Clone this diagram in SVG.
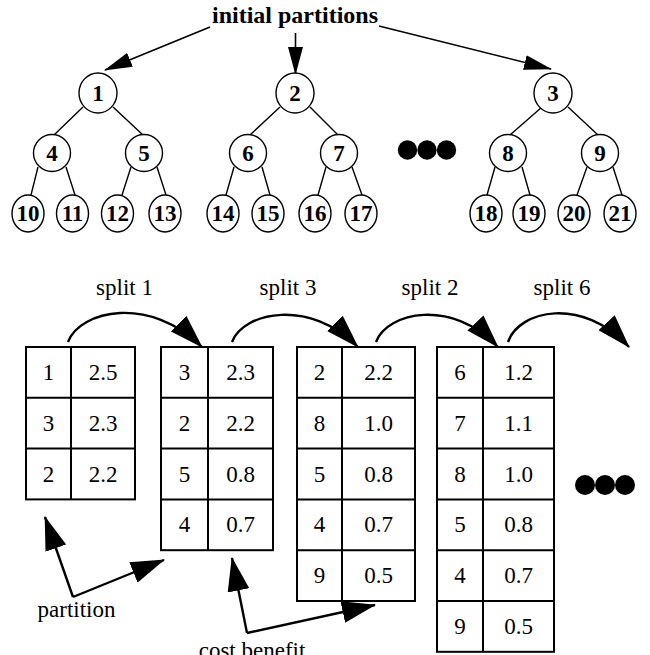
<svg xmlns="http://www.w3.org/2000/svg" width="650" height="655" viewBox="0 0 650 655">
<style>
.nd{fill:#fff;stroke:#000;stroke-width:1.4}
.nt{font-family:"Liberation Serif",serif;font-weight:bold;font-size:23px;text-anchor:middle;fill:#000}
.ed{stroke:#000;stroke-width:1.4;fill:none}
.ar{stroke:#000;stroke-width:1.6;fill:none}
.ab{stroke:#000;stroke-width:2.4;fill:none}
.tb{fill:none;stroke:#000;stroke-width:2}
.tx{font-family:"Liberation Serif",serif;font-size:23px;text-anchor:middle;fill:#000}
.dot{fill:#000}
</style>
<defs>
<marker id="ah" markerUnits="userSpaceOnUse" viewBox="0 0 28 15" markerWidth="28" markerHeight="15" refX="27" refY="7.5" orient="auto"><path d="M0,0 L28,7.5 L0,15 Z" fill="#000"/></marker>
<marker id="big" markerUnits="userSpaceOnUse" viewBox="0 0 34 22" markerWidth="34" markerHeight="22" refX="33" refY="11" orient="auto"><path d="M0,0 L34,11 L0,22 Z" fill="#000"/></marker>
</defs>

<text class="nt" x="295" y="23" font-size="24" style="font-size:24px">initial partitions</text>

<g id="connectors">
<path class="ar" d="M210,27 L105,70" marker-end="url(#ah)"/>
<path class="ar" d="M295.5,33 L295.5,74" marker-end="url(#ah)"/>
<path class="ar" d="M379,26 L551,69" marker-end="url(#ah)"/>
<path class="ed" d="M83,107 L54,135 M113,107 L143,135 M38,167 L31,195 M66,167 L75,195 M131,167 L122,195 M157,167 L166,195"/>
<path class="ed" d="M280,107 L250,135 M310,107 L338,135 M234,167 L226,195 M262,167 L270,195 M326,167 L318,195 M352,167 L362,195"/>
<path class="ed" d="M542,107 L510,135 M568,107 L598,135 M495,167 L487,195 M522,167 L530,195 M587,167 L577,195 M613,167 L622,195"/>
<path class="ab" d="M68,342 C80,310 150,295 202,347" marker-end="url(#big)"/>
<path class="ab" d="M232,342 C243,312 310,298 358,347" marker-end="url(#big)"/>
<path class="ab" d="M376,342 C387,312 452,298 498,347" marker-end="url(#big)"/>
<path class="ab" d="M508,342 C519,310 582,296 629,347" marker-end="url(#big)"/>
<path class="ab" d="M73,597 L45,517" marker-end="url(#big)"/>
<path class="ab" d="M73,597 L164,560" marker-end="url(#big)"/>
<path class="ab" d="M247,633 L232,558" marker-end="url(#big)"/>
<path class="ab" d="M247,633 L375,605" marker-end="url(#big)"/>
</g>

<g id="n1"><ellipse class="nd" cx="98" cy="93" rx="19" ry="20"/><text class="nt" x="98" y="101">1</text></g>
<g id="n2"><ellipse class="nd" cx="295" cy="93" rx="19" ry="20"/><text class="nt" x="295" y="101">2</text></g>
<g id="n3"><ellipse class="nd" cx="553" cy="93" rx="19" ry="20"/><text class="nt" x="553" y="101">3</text></g>
<g id="n4"><circle class="nd" cx="52" cy="153" r="18.5"/><text class="nt" x="52" y="161">4</text></g>
<g id="n5"><circle class="nd" cx="144" cy="153" r="18.5"/><text class="nt" x="144" y="161">5</text></g>
<g id="n6"><circle class="nd" cx="248" cy="153" r="18.5"/><text class="nt" x="248" y="161">6</text></g>
<g id="n7"><circle class="nd" cx="339" cy="153" r="18.5"/><text class="nt" x="339" y="161">7</text></g>
<g id="n8"><circle class="nd" cx="508" cy="153" r="18.5"/><text class="nt" x="508" y="161">8</text></g>
<g id="n9"><circle class="nd" cx="600" cy="153" r="18.5"/><text class="nt" x="600" y="161">9</text></g>
<g id="n10"><ellipse class="nd" cx="28" cy="213.5" rx="16" ry="18.5"/><text class="nt" x="28" y="221">10</text></g>
<g id="n11"><ellipse class="nd" cx="72.5" cy="213.5" rx="16" ry="18.5"/><text class="nt" x="72.5" y="221">11</text></g>
<g id="n12"><ellipse class="nd" cx="117.5" cy="213.5" rx="16" ry="18.5"/><text class="nt" x="117.5" y="221">12</text></g>
<g id="n13"><ellipse class="nd" cx="165" cy="213.5" rx="16" ry="18.5"/><text class="nt" x="165" y="221">13</text></g>
<g id="n14"><ellipse class="nd" cx="223" cy="213.5" rx="16" ry="18.5"/><text class="nt" x="223" y="221">14</text></g>
<g id="n15"><ellipse class="nd" cx="268" cy="213.5" rx="16" ry="18.5"/><text class="nt" x="268" y="221">15</text></g>
<g id="n16"><ellipse class="nd" cx="315" cy="213.5" rx="16" ry="18.5"/><text class="nt" x="315" y="221">16</text></g>
<g id="n17"><ellipse class="nd" cx="361" cy="213.5" rx="16" ry="18.5"/><text class="nt" x="361" y="221">17</text></g>
<g id="n18"><ellipse class="nd" cx="486" cy="213.5" rx="16" ry="18.5"/><text class="nt" x="486" y="221">18</text></g>
<g id="n19"><ellipse class="nd" cx="529" cy="213.5" rx="16" ry="18.5"/><text class="nt" x="529" y="221">19</text></g>
<g id="n20"><ellipse class="nd" cx="574" cy="213.5" rx="16" ry="18.5"/><text class="nt" x="574" y="221">20</text></g>
<g id="n21"><ellipse class="nd" cx="620" cy="213.5" rx="16" ry="18.5"/><text class="nt" x="620" y="221">21</text></g>

<g id="dots-top"><circle class="dot" cx="407.5" cy="150" r="9.7"/><circle class="dot" cx="427" cy="150" r="9.7"/><circle class="dot" cx="446.5" cy="150" r="9.7"/></g>
<g id="dots-bottom"><circle class="dot" cx="585" cy="485" r="10"/><circle class="dot" cx="605" cy="485" r="10"/><circle class="dot" cx="625" cy="485" r="10"/></g>

<g id="labels">
<text class="tx" x="124.5" y="295">split 1</text>
<text class="tx" x="288" y="295">split 3</text>
<text class="tx" x="430" y="295">split 2</text>
<text class="tx" x="562" y="295">split 6</text>
<text class="tx" x="76.5" y="617">partition</text>
<text class="tx" x="252" y="658">cost benefit</text>
</g>

<g id="table1">
<rect class="tb" x="26" y="347" width="109" height="152.4"/>
<path class="tb" d="M71,347 V499.4 M26,397.8 H135 M26,448.6 H135"/>
<text class="tx" x="48.5" y="380">1</text><text class="tx" x="103" y="380">2.5</text>
<text class="tx" x="48.5" y="430.8">3</text><text class="tx" x="103" y="430.8">2.3</text>
<text class="tx" x="48.5" y="481.6">2</text><text class="tx" x="103" y="481.6">2.2</text>
</g>
<g id="table2">
<rect class="tb" x="161" y="347" width="112" height="203.2"/>
<path class="tb" d="M208,347 V550.2 M161,397.8 H273 M161,448.6 H273 M161,499.4 H273"/>
<text class="tx" x="184.5" y="380">3</text><text class="tx" x="240.5" y="380">2.3</text>
<text class="tx" x="184.5" y="430.8">2</text><text class="tx" x="240.5" y="430.8">2.2</text>
<text class="tx" x="184.5" y="481.6">5</text><text class="tx" x="240.5" y="481.6">0.8</text>
<text class="tx" x="184.5" y="532.4">4</text><text class="tx" x="240.5" y="532.4">0.7</text>
</g>
<g id="table3">
<rect class="tb" x="297" y="347" width="118" height="254"/>
<path class="tb" d="M342,347 V601 M297,397.8 H415 M297,448.6 H415 M297,499.4 H415 M297,550.2 H415"/>
<text class="tx" x="319.5" y="380">2</text><text class="tx" x="378.5" y="380">2.2</text>
<text class="tx" x="319.5" y="430.8">8</text><text class="tx" x="378.5" y="430.8">1.0</text>
<text class="tx" x="319.5" y="481.6">5</text><text class="tx" x="378.5" y="481.6">0.8</text>
<text class="tx" x="319.5" y="532.4">4</text><text class="tx" x="378.5" y="532.4">0.7</text>
<text class="tx" x="319.5" y="583.2">9</text><text class="tx" x="378.5" y="583.2">0.5</text>
</g>
<g id="table4">
<rect class="tb" x="437" y="347" width="117" height="304.8"/>
<path class="tb" d="M483,347 V651.8 M437,397.8 H554 M437,448.6 H554 M437,499.4 H554 M437,550.2 H554 M437,601 H554"/>
<text class="tx" x="460" y="380">6</text><text class="tx" x="518.5" y="380">1.2</text>
<text class="tx" x="460" y="430.8">7</text><text class="tx" x="518.5" y="430.8">1.1</text>
<text class="tx" x="460" y="481.6">8</text><text class="tx" x="518.5" y="481.6">1.0</text>
<text class="tx" x="460" y="532.4">5</text><text class="tx" x="518.5" y="532.4">0.8</text>
<text class="tx" x="460" y="583.2">4</text><text class="tx" x="518.5" y="583.2">0.7</text>
<text class="tx" x="460" y="634">9</text><text class="tx" x="518.5" y="634">0.5</text>
</g>
</svg>
